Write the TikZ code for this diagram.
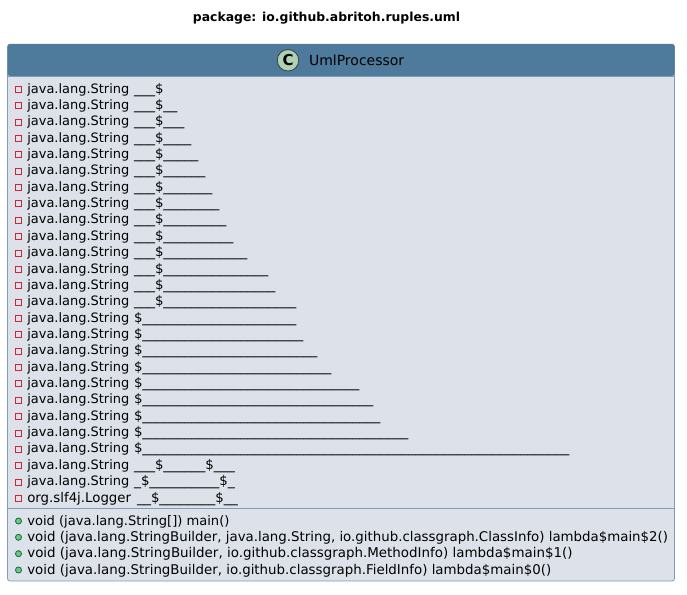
\documentclass[tikz,border=0pt]{standalone}
\usepackage{fontspec}
\setmainfont{DejaVu Sans}
\usetikzlibrary{calc}
\definecolor{headblue}{HTML}{4E7A9B}
\definecolor{bodygray}{HTML}{DDE2EA}
\definecolor{edgeblue}{HTML}{7F9DB5}
\definecolor{circgreen}{HTML}{ADD1B2}
\definecolor{privred}{HTML}{C82930}
\definecolor{pubgreen}{HTML}{038048}
\definecolor{pubfill}{HTML}{84BE84}
\newcount\usc
\newcommand\U[1]{\usc=#1\relax\loop\ifnum\usc>0 \hbox to 7pt{\fontsize{14}{14}\selectfont\_\hss}\advance\usc by -1 \repeat}
\newcommand\JS{\hbox to 106.7pt{\fontsize{12.95}{15}\selectfont java.lang.String \hss}}
\newcommand\LG{\hbox to 109.7pt{org.slf4j.Logger \hss}}
\tikzset{
  x=1pt,y=-1pt,
  row/.style={anchor=base west,inner sep=0pt,outer sep=0pt,font=\fontsize{13.33}{15}\selectfont,text=black},
  privmark/.style={draw=privred,line width=0.9pt,fill=bodygray,minimum size=6pt,inner sep=0pt,outer sep=0pt,rectangle},
  pubmark/.style={draw=pubgreen,line width=0.9pt,fill=pubfill,minimum size=6pt,inner sep=0pt,outer sep=0pt,circle},
  boxedge/.style={draw=edgeblue,line width=0.8pt},
}
\newcommand\Row[3]{%
  \node[privmark] (m#1) at (18.5,{#2-3.6}) {};
  \node[row] (r#1) at (27.3,#2) {#3};}
\newcommand\Met[4]{%
  \node[pubmark] (m#1) at (18.5,{#2-4}) {};
  \node[row,font=\fontsize{#3}{15}\selectfont] (r#1) at (27.3,#2) {#4};}
\begin{document}
\begin{tikzpicture}
\useasboundingbox (0,0) rectangle (687,594);
\fill[white] (0,0) rectangle (687,594);
\node[anchor=base,inner sep=0pt,font=\fontsize{12.4}{15}\bfseries\selectfont] (title) at (326.5,22) {package: io.github.abritoh.ruples.uml};
% class box
\path[fill=bodygray,boxedge,rounded corners=2.5pt] (7.5,44.5) rectangle (674.5,581);
\path[fill=headblue,rounded corners=2.5pt] (7.5,44) -- (674.5,44) -- (674.5,76) -- (7.5,76) -- cycle;
\draw[boxedge] (7.5,76.5) -- (674.5,76.5);
\draw[boxedge] (7.5,508.5) -- (674.5,508.5);
\node[circle,draw=black!75,line width=0.8pt,fill=circgreen,minimum size=21.5pt,inner sep=0pt,font=\fontsize{15}{15}\bfseries\selectfont] (icon) at (288,60.3) {C};
\node[row,font=\fontsize{14}{15}\selectfont] (cname) at (309,65) {UmlProcessor};
\Row{1}{93}{\JS\U{3}\$}
\Row{2}{109.4}{\JS\U{3}\$\U{2}}
\Row{3}{125.7}{\JS\U{3}\$\U{3}}
\Row{4}{142.1}{\JS\U{3}\$\U{4}}
\Row{5}{158.4}{\JS\U{3}\$\U{5}}
\Row{6}{174.8}{\JS\U{3}\$\U{6}}
\Row{7}{191.2}{\JS\U{3}\$\U{7}}
\Row{8}{207.5}{\JS\U{3}\$\U{8}}
\Row{9}{223.9}{\JS\U{3}\$\U{9}}
\Row{10}{240.2}{\JS\U{3}\$\U{10}}
\Row{11}{256.6}{\JS\U{3}\$\U{12}}
\Row{12}{273}{\JS\U{3}\$\U{15}}
\Row{13}{289.3}{\JS\U{3}\$\U{16}}
\Row{14}{305.7}{\JS\U{3}\$\U{19}}
\Row{15}{322}{\JS\$\U{22}}
\Row{16}{338.4}{\JS\$\U{23}}
\Row{17}{354.8}{\JS\$\U{25}}
\Row{18}{371.1}{\JS\$\U{27}}
\Row{19}{387.5}{\JS\$\U{31}}
\Row{20}{403.8}{\JS\$\U{33}}
\Row{21}{420.2}{\JS\$\U{34}}
\Row{22}{436.6}{\JS\$\U{38}}
\Row{23}{452.9}{\JS\$\U{61}}
\Row{24}{469.3}{\JS\U{3}\$\U{6}\$\U{3}}
\Row{25}{485.6}{\JS\U{1}\$\U{10}\$\U{1}}
\Row{26}{502}{\LG\U{2}\$\U{8}\$\U{2}}
\Met{27}{525}{13.07}{void (java.lang.String[]) main()}
\Met{28}{541.3}{13.35}{void (java.lang.StringBuilder, java.lang.String, io.github.classgraph.ClassInfo) lambda\$main\$2()}
\Met{29}{557.7}{13.43}{void (java.lang.StringBuilder, io.github.classgraph.MethodInfo) lambda\$main\$1()}
\Met{30}{574}{13.38}{void (java.lang.StringBuilder, io.github.classgraph.FieldInfo) lambda\$main\$0()}
\end{tikzpicture}
\end{document}
